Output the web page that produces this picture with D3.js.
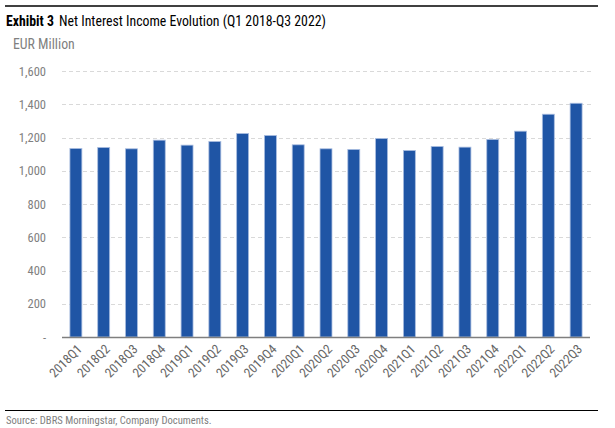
<!DOCTYPE html>
<html><head><meta charset="utf-8">
<script src="https://cdn.jsdelivr.net/npm/d3@7"></script>
<style>
body{margin:0;background:#fff;}
text{font-family:"Liberation Sans Narrow","Arial Narrow","Roboto Condensed",sans-serif;}
</style></head>
<body><svg id="c" width="615" height="428"></svg>
<script>
const categories = ["2018Q1","2018Q2","2018Q3","2018Q4","2019Q1","2019Q2","2019Q3","2019Q4","2020Q1","2020Q2","2020Q3","2020Q4","2021Q1","2021Q2","2021Q3","2021Q4","2022Q1","2022Q2","2022Q3"];
const values = [1134,1140,1132,1184,1154,1176,1224,1212,1156,1132,1128,1194,1122,1146,1142,1188,1238,1340,1406];
const yTicks = [0,200,400,600,800,1000,1200,1400,1600];

const svg = d3.select("#c");
const m = {left:62, right:590, top:71, bottom:337};
const x = d3.scaleBand().domain(categories).range([m.left, m.right]).paddingInner(0.57).paddingOuter(0.285);
const y = d3.scaleLinear().domain([0,1600]).range([m.bottom, m.top]);

// frame lines
svg.append("line").attr("x1",5).attr("x2",598).attr("y1",6).attr("y2",6).attr("stroke","#000").attr("stroke-width",1.5);
svg.append("line").attr("x1",5).attr("x2",598).attr("y1",410.5).attr("y2",410.5).attr("stroke","#000").attr("stroke-width",1);

// title
const t = svg.append("text").attr("x",6).attr("y",26).attr("font-size",13.8).attr("fill","#000");
t.append("tspan").attr("font-weight","bold").text("Exhibit 3");
t.append("tspan").attr("dx",5).text("Net Interest Income Evolution (Q1 2018-Q3 2022)");
svg.append("text").attr("x",13).attr("y",49).attr("font-size",13.8).attr("fill","#808080").text("EUR Million");

// gridlines
svg.append("g").selectAll("line").data(yTicks.filter(d=>d>0)).join("line")
  .attr("x1",m.left).attr("x2",592).attr("y1",d=>Math.round(y(d))+0.5).attr("y2",d=>Math.round(y(d))+0.5)
  .attr("stroke","#d9d9d9").attr("stroke-dasharray","4,3").attr("stroke-width",1);

// y axis labels
const yAxis = d3.axisLeft(y).tickValues(yTicks).tickSize(0).tickPadding(0)
  .tickFormat(d=> d===0 ? "-" : d3.format(",")(d));
const ga = svg.append("g").attr("transform","translate(46,0)").call(yAxis);
ga.select(".domain").remove();
ga.selectAll("text").attr("font-size",12.5).attr("fill","#808080").attr("font-family","'Liberation Sans Narrow','Arial Narrow',sans-serif");

// bars
svg.append("g").selectAll("rect").data(values).join("rect")
  .attr("x",(d,i)=>x(categories[i])).attr("width",x.bandwidth())
  .attr("y",d=>y(d)).attr("height",d=>y(0)-y(d))
  .attr("fill","#1F55A5").attr("stroke","#A9BDE0").attr("stroke-width",0.8);

// x axis line
svg.append("line").attr("x1",m.left).attr("x2",m.right).attr("y1",337.5).attr("y2",337.5).attr("stroke","#7f7f7f").attr("stroke-width",1.3);

// x labels
const xAxis = d3.axisBottom(x).tickSize(0).tickPadding(0);
const gx = svg.append("g").attr("transform","translate(0,337)").call(xAxis);
gx.select(".domain").remove();
gx.selectAll("text").attr("font-size",13).attr("fill","#666")
  .attr("font-family","'Liberation Sans Narrow','Arial Narrow',sans-serif")
  .attr("text-anchor","end").attr("dy",0)
  .attr("transform","translate(7,13) rotate(-45)");

// source
svg.append("text").attr("x",6).attr("y",424).attr("font-size",10.6).attr("fill","#808080").text("Source: DBRS Morningstar, Company Documents.");
</script></body></html>
